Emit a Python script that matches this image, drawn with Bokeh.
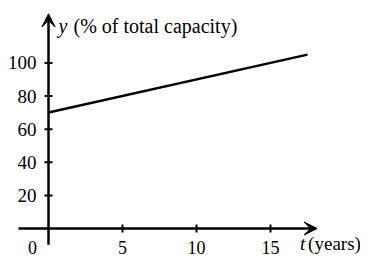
from bokeh.plotting import figure
from bokeh.models import Arrow, VeeHead, Range1d, LabelSet, Label, ColumnDataSource
from bokeh.embed import file_html
from bokeh.resources import INLINE

# data
t_line = [0, 17.5]
y_line = [70, 105]
x_ticks = [5, 10, 15]
x_tick_labels = ["5", "10", "15"]
y_ticks = [20, 40, 60, 80, 100]
y_tick_labels = ["20", "40", "60", "80", "100"]
x_axis_extent = [-2.03, 18.15]
y_axis_extent = [-9.8, 129.6]
y_label = "(% of total capacity)"
x_label = "(years)"

FONT = "Liberation Serif"
INK = "black"
H = 256

p = figure(width=360, height=H, output_backend="svg", toolbar_location=None,
           x_range=Range1d(-3.2432, 21.081), y_range=Range1d(-16.91, 137.68),
           x_axis_type=None, y_axis_type=None, min_border=0,
           outline_line_color=None, background_fill_color="white")
p.grid.visible = False

# axes with arrows
for xs, ys, xe, ye in [(x_axis_extent[0], 0, x_axis_extent[1], 0),
                       (0, y_axis_extent[0], 0, y_axis_extent[1])]:
    p.add_layout(Arrow(end=VeeHead(size=13, fill_color=INK, line_color=INK, line_width=1),
                       x_start=xs, y_start=ys, x_end=xe, y_end=ye,
                       line_width=2.5, line_color=INK))

# ticks
p.scatter(x=[0] * len(y_ticks), y=y_ticks, marker="dash", size=8, line_width=2, line_color=INK)
p.scatter(x=x_ticks, y=[0] * len(x_ticks), marker="dash", size=8, angle=1.5708,
          line_width=2, line_color=INK)

# y tick labels
ysrc = ColumnDataSource(dict(x=[0] * len(y_ticks), y=y_ticks, text=y_tick_labels))
p.add_layout(LabelSet(source=ysrc, x="x", y="y", text="text", x_offset=-12,
                      text_align="right", text_baseline="middle", text_font=FONT,
                      text_font_size="19px", text_color=INK))

# x tick labels (a fixed number of pixels above the bottom edge)
xsrc = ColumnDataSource(dict(x=[0] + x_ticks, text=["0"] + x_tick_labels,
                             dx=[-16] + [0] * len(x_ticks)))
p.add_layout(LabelSet(source=xsrc, x="x", y=3, x_units="data", y_units="screen",
                      text="text", x_offset="dx", text_align="center",
                      text_baseline="bottom", text_font=FONT,
                      text_font_size="18px", text_color=INK))

# axis titles
TOP_BASE = H - 25
p.add_layout(Label(x=0, y=TOP_BASE, x_units="data", y_units="screen", text="y",
                   x_offset=10, text_align="left", text_baseline="alphabetic",
                   text_font=FONT, text_font_style="italic", text_font_size="20px",
                   text_color=INK))
p.add_layout(Label(x=0, y=TOP_BASE, x_units="data", y_units="screen", text=y_label,
                   x_offset=25, text_align="left", text_baseline="alphabetic",
                   text_font=FONT, text_font_size="20px", text_color=INK))
p.add_layout(Label(x=x_axis_extent[1], y=3, x_units="data", y_units="screen", text="t",
                   x_offset=-17, text_align="left", text_baseline="bottom",
                   text_font=FONT, text_font_style="italic", text_font_size="19px",
                   text_color=INK))
p.add_layout(Label(x=x_axis_extent[1], y=3, x_units="data", y_units="screen", text=x_label,
                   x_offset=-9, text_align="left", text_baseline="bottom",
                   text_font=FONT, text_font_size="19px", text_color=INK))

# data line
p.line(x=t_line, y=y_line, line_width=2.5, line_color=INK)

open("out.html", "w").write(file_html(p, INLINE))
